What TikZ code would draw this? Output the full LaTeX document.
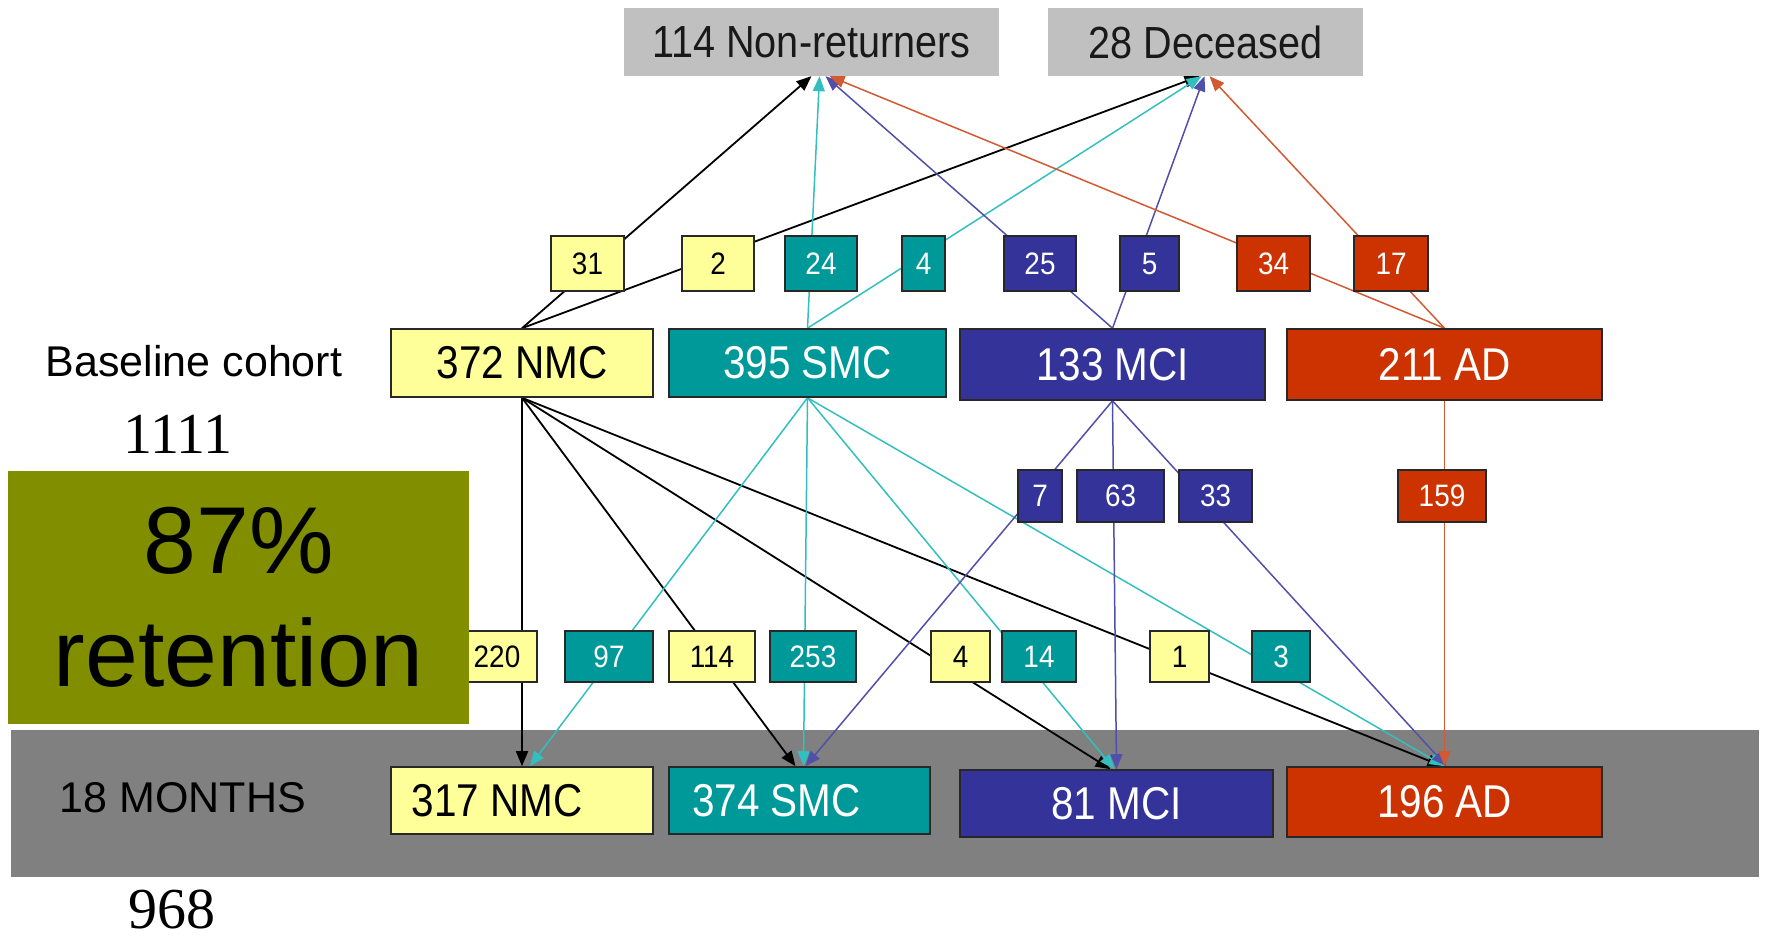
\documentclass[tikz,border=0pt]{standalone}
\usepackage{fontspec}
\setmainfont{Liberation Sans}
\newfontfamily\serifnum{Liberation Serif}
\newfontfamily\condsans[FakeStretch=0.88]{Liberation Sans}
\newfontfamily\labsans[FakeStretch=0.9]{Liberation Sans}
\usetikzlibrary{arrows.meta}
\definecolor{yelfill}{RGB}{255,255,153}
\definecolor{tealfill}{RGB}{0,153,153}
\definecolor{bluefill}{RGB}{51,51,153}
\definecolor{redfill}{RGB}{204,51,0}
\definecolor{hdrgray}{RGB}{192,192,192}
\definecolor{bandgray}{RGB}{128,128,128}
\definecolor{retgreen}{RGB}{128,142,0}
\definecolor{tealline}{RGB}{51,191,191}
\definecolor{blueline}{RGB}{80,80,170}
\definecolor{redline}{RGB}{210,90,50}
\definecolor{boxline}{RGB}{40,40,40}
\pgfdeclarelayer{bandlayer}
\pgfdeclarelayer{edgelayer}
\pgfsetlayers{bandlayer,edgelayer,main}
\tikzset{
  mainbox/.style={draw=boxline, line width=1.6pt, inner sep=0pt, font=\condsans\fontsize{46}{52}\selectfont},
  labbox/.style={draw=boxline, line width=1.6pt, inner sep=0pt, font=\labsans\fontsize{31}{36}\selectfont},
  yelbox/.style={fill=yelfill, text=black},
  tealbox/.style={fill=tealfill, text=white},
  bluebox/.style={fill=bluefill, text=white},
  redbox/.style={fill=redfill, text=white},
  hdrbox/.style={fill=hdrgray, inner sep=0pt, minimum height=68pt, text=black!90, font=\condsans\fontsize{45}{50}\selectfont},
  rowtext/.style={inner sep=0pt, text=black, font=\fontsize{43}{48}\selectfont},
  bignum/.style={inner sep=0pt, font=\serifnum\fontsize{58}{64}\selectfont},
  tip/.style={-{Triangle[length=15pt,width=12pt]}},
  blkline/.style={draw=black, line width=1.8pt, tip},
  tealln/.style={draw=tealline, line width=1.5pt, tip},
  bluelnn/.style={draw=blueline, line width=1.5pt, tip},
  redln/.style={draw=redline, line width=1.5pt, tip},
}
\begin{document}
\begin{tikzpicture}[x=1pt,y=-1pt]
\useasboundingbox (0,0) rectangle (1768,943);
% band
\begin{pgfonlayer}{bandlayer}
\node[fill=bandgray, inner sep=0pt, minimum width=1748pt, minimum height=147pt, anchor=north west] (band) at (11,730) {};
\end{pgfonlayer}
% headers
\node[hdrbox, minimum width=375pt] (nonret) at (811.5,42) {114 Non-returners};
\node[hdrbox, minimum width=315pt] (dec) at (1205.5,42) {28 Deceased};
% top labels
\node[labbox, yelbox, minimum width=73pt, minimum height=55pt] (l31) at (587.5,263.5) {31};
\node[labbox, yelbox, minimum width=72pt, minimum height=55pt] (l2) at (718,263.5) {2};
\node[labbox, tealbox, minimum width=72pt, minimum height=55pt] (l24) at (821,263.5) {24};
\node[labbox, tealbox, minimum width=43pt, minimum height=55pt] (l4a) at (923.5,263.5) {4};
\node[labbox, bluebox, minimum width=72pt, minimum height=55pt] (l25) at (1040,263.5) {25};
\node[labbox, bluebox, minimum width=59pt, minimum height=55pt] (l5) at (1149.5,263.5) {5};
\node[labbox, redbox, minimum width=73pt, minimum height=55pt] (l34) at (1273.5,263.5) {34};
\node[labbox, redbox, minimum width=74pt, minimum height=55pt] (l17) at (1391,263.5) {17};
% baseline row
\node[rowtext] (basetxt) at (194,361) {Baseline cohort};
\node[mainbox, yelbox, minimum width=262pt, minimum height=68pt] (nmc0) at (522,363) {372 NMC};
\node[mainbox, tealbox, minimum width=277pt, minimum height=68pt] (smc0) at (807.5,363) {395 SMC};
\node[mainbox, bluebox, minimum width=305pt, minimum height=71pt] (mci0) at (1112.5,364.5) {133 MCI};
\node[mainbox, redbox, minimum width=315pt, minimum height=71pt] (ad0) at (1444.5,364.5) {211 AD};
\node[bignum] (n1111) at (178,434) {1111};
% middle labels
\node[labbox, bluebox, minimum width=44pt, minimum height=52pt] (l7) at (1040,496) {7};
\node[labbox, bluebox, minimum width=87pt, minimum height=52pt] (l63) at (1120.5,496) {63};
\node[labbox, bluebox, minimum width=73pt, minimum height=52pt] (l33) at (1215.5,496) {33};
\node[labbox, redbox, minimum width=88pt, minimum height=52pt] (l159) at (1442,496) {159};
% lower labels
\node[labbox, yelbox, minimum width=80pt, minimum height=51pt] (l220) at (497,656.5) {220};
\node[labbox, tealbox, minimum width=88pt, minimum height=51pt] (l97) at (609,656.5) {97};
\node[labbox, yelbox, minimum width=86pt, minimum height=51pt] (l114) at (712,656.5) {114};
\node[labbox, tealbox, minimum width=86pt, minimum height=51pt] (l253) at (813,656.5) {253};
\node[labbox, yelbox, minimum width=59pt, minimum height=51pt] (l4b) at (960.5,656.5) {4};
\node[labbox, tealbox, minimum width=74pt, minimum height=51pt] (l14) at (1039,656.5) {14};
\node[labbox, yelbox, minimum width=59pt, minimum height=51pt] (l1) at (1179.5,656.5) {1};
\node[labbox, tealbox, minimum width=58pt, minimum height=51pt] (l3) at (1281,656.5) {3};
% retention box
\node[fill=retgreen, inner sep=0pt, minimum width=461pt, minimum height=253pt, align=center,
      font=\fontsize{95}{113}\selectfont] (retention) at (238.5,597.5) {87\%\\retention};
% 18 months row
\node[rowtext] (montxt) at (183,798) {18 MONTHS};
\node[mainbox, yelbox, minimum width=262pt, minimum height=67pt] (nmc1) at (522,800.5) {317 NMC\hspace*{50pt}};
\node[mainbox, tealbox, minimum width=261pt, minimum height=67pt] (smc1) at (799.5,800.5) {374 SMC\hspace*{46pt}};
\node[mainbox, bluebox, minimum width=313pt, minimum height=67pt] (mci1) at (1116.5,803.5) {81 MCI};
\node[mainbox, redbox, minimum width=315pt, minimum height=70pt] (ad1) at (1444.5,802) {196 AD};
\node[bignum] (n968) at (172,909) {968};
% connectors
\begin{pgfonlayer}{edgelayer}
\draw[blkline] (nmc0.north) -- (nonret.south);
\draw[blkline] (nmc0.north) -- ([xshift=-6pt]dec.south);
\draw[tealln] (smc0.north) -- ([xshift=8pt]nonret.south);
\draw[tealln] (smc0.north) -- ([xshift=-4pt]dec.south);
\draw[bluelnn] (mci0.north) -- ([xshift=14pt]nonret.south);
\draw[bluelnn] (mci0.north) -- ([xshift=-1pt]dec.south);
\draw[redln] (ad0.north) -- ([xshift=18pt]nonret.south);
\draw[redln] (ad0.north) -- ([xshift=4pt]dec.south);
\draw[blkline] (nmc0.south) -- (nmc1.north);
\draw[blkline] (nmc0.south) -- ([xshift=-4pt]smc1.north);
\draw[blkline] (nmc0.south) -- ([xshift=-6pt]mci1.north);
\draw[blkline] (nmc0.south) -- ([xshift=-2pt]ad1.north);
\draw[tealln] (smc0.south) -- ([xshift=8pt]nmc1.north);
\draw[tealln] (smc0.south) -- ([xshift=4pt]smc1.north);
\draw[tealln] (smc0.south) -- ([xshift=-2pt]mci1.north);
\draw[tealln] (smc0.south) -- (ad1.north);
\draw[bluelnn] (mci0.south) -- ([xshift=6pt]smc1.north);
\draw[bluelnn] (mci0.south) -- (mci1.north);
\draw[bluelnn] (mci0.south) -- ([xshift=2pt]ad1.north);
\draw[redln] (ad0.south) -- (ad1.north);
\end{pgfonlayer}
\end{tikzpicture}
\end{document}
